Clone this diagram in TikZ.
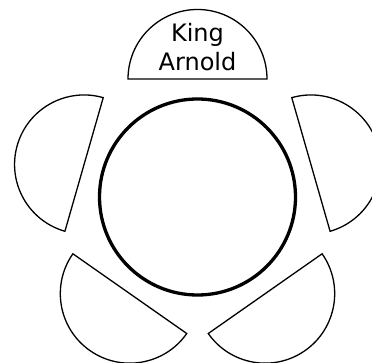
\documentclass[tikz,border=0pt]{standalone}
\usepackage{fontspec}
\newfontfamily\kingfont{DejaVu Sans}
\usepackage{tikz}
\usetikzlibrary{calc}

\begin{document}
\begin{tikzpicture}[x=1pt,y=1pt,
    table/.style={draw=black,line width=3.3pt},
    chair/.style={draw=black,line width=1.3pt,line join=miter}]
    % Frame
    \useasboundingbox (0,0) rectangle (372,363);
    % Coordinates
    \coordinate (T) at (197.5,166);
    % Table
    \draw[table] (T) circle (98);
    % Chairs (semicircles round the table)
    \foreach \a in {90, 164, 16, 235, 305} {
        \draw[chair] ($(T)+(\a:118)$) ++(\a-90:69.5)
            arc[start angle=\a-90, end angle=\a+90, radius=69.5] -- cycle;
    }
    % Label of the head chair
    \node[align=center, font=\kingfont\fontsize{24}{29}\selectfont, inner sep=0pt]
        (king) at ($(T)+(90:118)+(0,32)$) {King\\Arnold};
\end{tikzpicture}
\end{document}
